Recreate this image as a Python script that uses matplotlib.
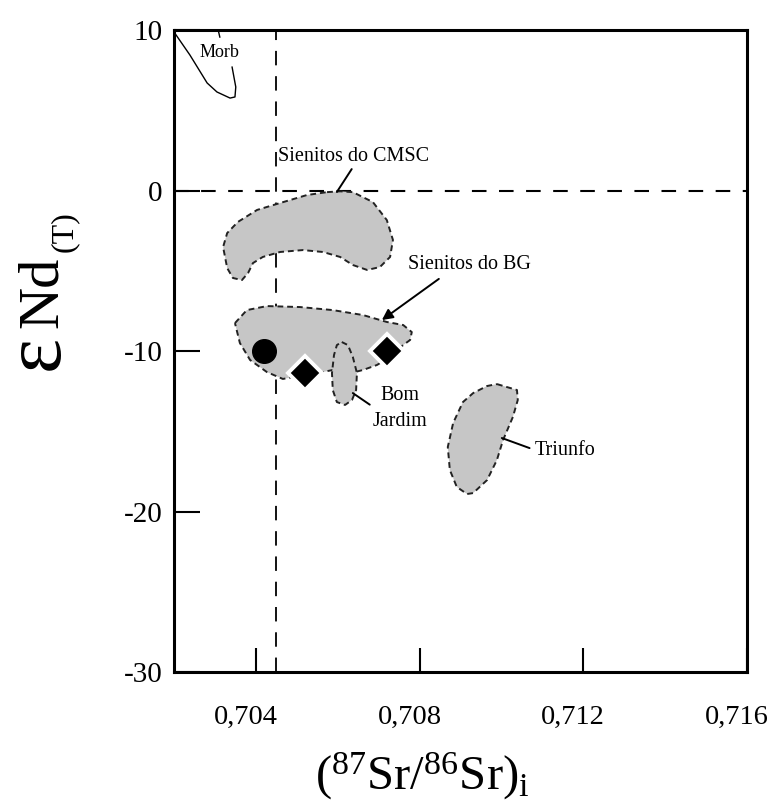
import matplotlib
matplotlib.use("Agg")
import matplotlib.pyplot as plt
from matplotlib.patches import Polygon
from matplotlib.transforms import ScaledTranslation

plt.rcParams['font.family'] = ['Liberation Serif', 'DejaVu Serif']
plt.rcParams['mathtext.fontset'] = 'custom'
plt.rcParams['mathtext.rm'] = 'Liberation Serif'
plt.rcParams['mathtext.it'] = 'Liberation Serif:italic'
plt.rcParams['axes.unicode_minus'] = False

# fields (87Sr/86Sr)i , eNd(T)
cmsc_x = [0.70574, 0.70606, 0.70637, 0.70686, 0.70720, 0.70735, 0.70728, 0.70703, 0.70672,
          0.70637, 0.70606, 0.70564, 0.70515, 0.70459, 0.70417, 0.70393, 0.70381, 0.70366,
          0.70344, 0.70330, 0.70320, 0.70330, 0.70356, 0.70403, 0.70459, 0.70525]
cmsc_y = [-0.1, -0.05, -0.1, -0.72, -1.84, -3.08, -4.14, -4.77, -4.95,
          -4.64, -4.14, -3.83, -3.71, -3.83, -4.14, -4.52, -5.14, -5.58,
          -5.45, -4.83, -3.52, -2.65, -1.96, -1.21, -0.78, -0.28]

bg_x = [0.70349, 0.70378, 0.70427, 0.70508, 0.70588, 0.70662, 0.70720, 0.70760, 0.70781,
        0.70777, 0.70760, 0.70716, 0.70696, 0.70662, 0.70642, 0.70588, 0.70564, 0.70520,
        0.70466, 0.70427, 0.70386, 0.70361]
bg_y = [-8.26, -7.45, -7.20, -7.26, -7.45, -7.76, -8.19, -8.38, -8.82,
        -9.31, -9.63, -10.56, -10.87, -11.18, -11.31, -11.18, -11.31, -11.50,
        -11.74, -11.31, -10.56, -9.50]

bom_x = [0.70610, 0.70625, 0.70637, 0.70647, 0.70645, 0.70635, 0.70618, 0.70598,
         0.70588, 0.70586, 0.70591, 0.70598]
bom_y = [-9.44, -9.63, -10.37, -11.37, -12.43, -13.05, -13.36, -13.18,
         -12.43, -11.37, -10.25, -9.63]

tri_x = [0.70989, 0.71038, 0.71040, 0.71028, 0.71004, 0.70989, 0.70965, 0.70931,
         0.70916, 0.70891, 0.70874, 0.70869, 0.70882, 0.70906, 0.70931, 0.70965]
tri_y = [-12.06, -12.43, -13.05, -14.11, -15.55, -16.79, -18.04, -18.85,
         -18.91, -18.47, -17.41, -15.98, -14.49, -13.18, -12.62, -12.18]

morb_x = [0.70200, 0.70239, 0.70281, 0.70305, 0.70337, 0.70349, 0.70351, 0.70342]
morb_y = [9.88, 8.44, 6.70, 6.14, 5.76, 5.83, 6.45, 7.69]
morb_tick_x = [0.70308, 0.70312]
morb_tick_y = [10.0, 9.56]

# samples
circ_x, circ_y = [0.7042], [-10.0]
diam_x = [0.7052, 0.7072]
diam_y = [-11.4, -10.0]

xticks = [0.704, 0.708, 0.712, 0.716]
xticklabels = ['0,704', '0,708', '0,712', '0,716']
yticks = [10, 0, -10, -20, -30]

fig = plt.figure(figsize=(7.76, 8.05), dpi=100)
ax = fig.add_axes([0.2242, 0.1652, 0.7384, 0.7975])
ax.set_xlim(0.702, 0.716)
ax.set_ylim(-30, 10)

gray = '#c6c6c6'
for xs, ys in [(cmsc_x, cmsc_y), (bg_x, bg_y), (bom_x, bom_y), (tri_x, tri_y)]:
    poly = Polygon(list(zip(xs, ys)), closed=True, facecolor=gray, edgecolor='#222222',
                   linestyle=(0, (3, 2)), linewidth=1.4, joinstyle='round', zorder=2)
    ax.add_patch(poly)

ax.plot(morb_x, morb_y, color='black', lw=1.0, zorder=3)
ax.plot(morb_tick_x, morb_tick_y, color='black', lw=1.0, zorder=3)

ax.axhline(0, color='black', lw=1.5, dashes=(7, 6), zorder=1)
ax.axvline(0.7045, color='black', lw=1.3, dashes=(8, 6), zorder=1)

ax.plot(circ_x, circ_y, 'o', ms=17, color='black', zorder=5)
ax.plot(diam_x, diam_y, 'D', ms=17, mfc='black', mec='white', mew=2.8, zorder=5)

fs = 14.5
ax.text(0.70312, 8.63, 'Morb', fontsize=13, ha='center', va='center', zorder=4)
ax.annotate('Sienitos do CMSC', xy=(0.70598, -0.09), xytext=(0.70454, 2.1),
            fontsize=fs, ha='left', va='center',
            arrowprops=dict(arrowstyle='-', lw=1.4, color='black', shrinkA=0, shrinkB=0,
                            relpos=(0.5, 0.0)))
ax.annotate('Sienitos do BG', xy=(0.70708, -8.07), xytext=(0.70772, -4.64),
            fontsize=fs, ha='left', va='center',
            arrowprops=dict(arrowstyle='-|>', lw=1.4, color='black', mutation_scale=16,
                            shrinkA=2, shrinkB=0, relpos=(0.3, 0.0)))
ax.annotate('Bom\nJardim', xy=(0.70637, -12.62), xytext=(0.70752, -13.6),
            fontsize=fs, ha='center', va='center', linespacing=1.5,
            arrowprops=dict(arrowstyle='-', lw=1.4, color='black', shrinkA=0, shrinkB=0,
                            relpos=(0.0, 0.55)))
ax.annotate('Triunfo', xy=(0.71001, -15.42), xytext=(0.71082, -16.17),
            fontsize=fs, ha='left', va='center',
            arrowprops=dict(arrowstyle='-', lw=1.4, color='black', shrinkA=2, shrinkB=0,
                            relpos=(0.0, 0.5)))

ax.set_xticks(xticks)
ax.set_xticklabels(xticklabels)
ax.set_yticks(yticks)
ax.tick_params(axis='x', direction='in', length=17, width=1.5, pad=24, labelsize=20.5)
ax.tick_params(axis='y', direction='in', length=19, width=1.5, pad=8, labelsize=21)
for sp in ax.spines.values():
    sp.set_linewidth(2.2)

# x labels sit a little left of their ticks in the scan
shift = ScaledTranslation(-10 / 100, 0, fig.dpi_scale_trans)
for lab in ax.get_xticklabels():
    lab.set_transform(lab.get_transform() + shift)

fig.text(0.544, 0.036, r'$(^{87}\mathrm{Sr}/^{86}\mathrm{Sr})_\mathrm{i}$', fontsize=35,
         ha='center', va='center')
fig.text(0.053, 0.5565, r'$\mathrm{ε}$', fontsize=60, rotation=90, ha='center', va='center')
fig.text(0.055, 0.637, 'Nd', fontsize=42, rotation=90, ha='center', va='center')
fig.text(0.083, 0.712, '(T)', fontsize=23, rotation=90, ha='center', va='center')

fig.savefig('out.png', dpi=100)
